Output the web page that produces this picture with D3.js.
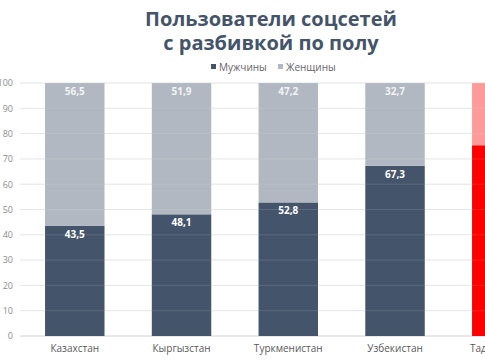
<!DOCTYPE html>
<html><head><meta charset="utf-8">
<script src="https://cdn.jsdelivr.net/npm/d3@7/dist/d3.min.js"></script>
<style>body{margin:0;background:#fff;}svg{display:block;font-family:"Open Sans",sans-serif;}</style>
</head><body>
<svg id="c" width="485" height="360"></svg>
<script>
const categories = ["Казахстан","Кыргызстан","Туркменистан","Узбекистан","Таджикистан"];
const men = [43.5, 48.1, 52.8, 67.3, 75.4];
const women = [56.5, 51.9, 47.2, 32.7, 24.6];
const yTicks = [0,10,20,30,40,50,60,70,80,90,100];
const seriesNames = ["Мужчины","Женщины"];
const menColors = ["#44546a","#44546a","#44546a","#44546a","#ff0000"];
const womenColors = ["#b1b8c1","#b1b8c1","#b1b8c1","#b1b8c1","#ff9a9a"];

const svg = d3.select("#c");
const W = 485;
const x = d3.scaleBand().domain(categories).range([21.4, 21.4 + 5*106.75]).paddingInner(0.443).paddingOuter(0.2215);
const y = d3.scaleLinear().domain([0,100]).range([336, 83]);

// grid
svg.append("g").selectAll("line").data(yTicks).join("line")
  .attr("x1", 20).attr("x2", W).attr("y1", d=>y(d)).attr("y2", d=>y(d))
  .attr("stroke", d=> d===0 ? "#d0d0d0" : "#e3e3e3").attr("stroke-width",1);

// y labels
const yAxis = d3.axisLeft(y).tickValues(yTicks).tickSize(0).tickPadding(0);
const ya = svg.append("g").attr("transform","translate(13,0)").call(yAxis);
ya.select(".domain").remove();
ya.selectAll("text").attr("fill","#8c8c8c").style("font-size","9px").style("font-family","'Open Sans',sans-serif");

// bars
const g = svg.append("g");
g.selectAll("rect.m").data(categories).join("rect").attr("class","m")
  .attr("x", d=>x(d)).attr("width", x.bandwidth())
  .attr("y", (d,i)=>y(men[i])).attr("height",(d,i)=>y(0)-y(men[i]))
  .attr("fill",(d,i)=>menColors[i]);
g.selectAll("rect.w").data(categories).join("rect").attr("class","w")
  .attr("x", d=>x(d)).attr("width", x.bandwidth())
  .attr("y", (d,i)=>y(men[i]+women[i])).attr("height",(d,i)=>y(men[i])-y(men[i]+women[i]))
  .attr("fill",(d,i)=>womenColors[i]);

// gridlines faint over bars
svg.append("g").selectAll("line").data(yTicks.filter(d=>d>0)).join("line")
  .attr("x1", 20).attr("x2", W).attr("y1", d=>y(d)).attr("y2", d=>y(d))
  .attr("stroke","#ffffff").attr("stroke-opacity",0.12);

const fmt = v => String(v).replace(".", ",");
g.selectAll("text.m").data(categories).join("text").attr("class","m")
  .attr("x", d=>x(d)+x.bandwidth()/2).attr("y",(d,i)=>y(men[i])+12)
  .attr("text-anchor","middle").attr("fill","#ffffff").style("font-size","10px").style("font-weight","bold")
  .text((d,i)=>fmt(men[i]));
g.selectAll("text.w").data(categories).join("text").attr("class","w")
  .attr("x", d=>x(d)+x.bandwidth()/2).attr("y",(d,i)=>y(men[i]+women[i])+12)
  .attr("text-anchor","middle").attr("fill","#f2f3f5").style("font-size","10px").style("font-weight","bold")
  .text((d,i)=>fmt(women[i]));

// x labels
const xAxis = d3.axisBottom(x).tickSize(0).tickPadding(9);
const xa = svg.append("g").attr("transform","translate(0,336)").call(xAxis);
xa.select(".domain").remove();
xa.selectAll("text").attr("fill","#595959").style("font-size","10px").style("font-family","'Open Sans',sans-serif");

// title
const title = svg.append("text").attr("text-anchor","middle").attr("fill","#44546a")
  .style("font-size","20px").style("font-weight","bold").style("font-family","'Open Sans',sans-serif");
title.append("tspan").attr("x",271).attr("y",26).text("Пользователи соцсетей");
title.append("tspan").attr("x",271).attr("y",50).text("с разбивкой по полу");

// legend
const leg = [{n:seriesNames[0], c:"#44546a", x:211},{n:seriesNames[1], c:"#b1b8c1", x:278}];
const lg = svg.append("g").selectAll("g").data(leg).join("g").attr("transform",d=>`translate(${d.x},0)`);
lg.append("rect").attr("x",0).attr("y",64).attr("width",5).attr("height",5).attr("fill",d=>d.c);
lg.append("text").attr("x",8).attr("y",70.5).attr("fill","#666").style("font-size","10px").text(d=>d.n);
</script>
</body></html>
